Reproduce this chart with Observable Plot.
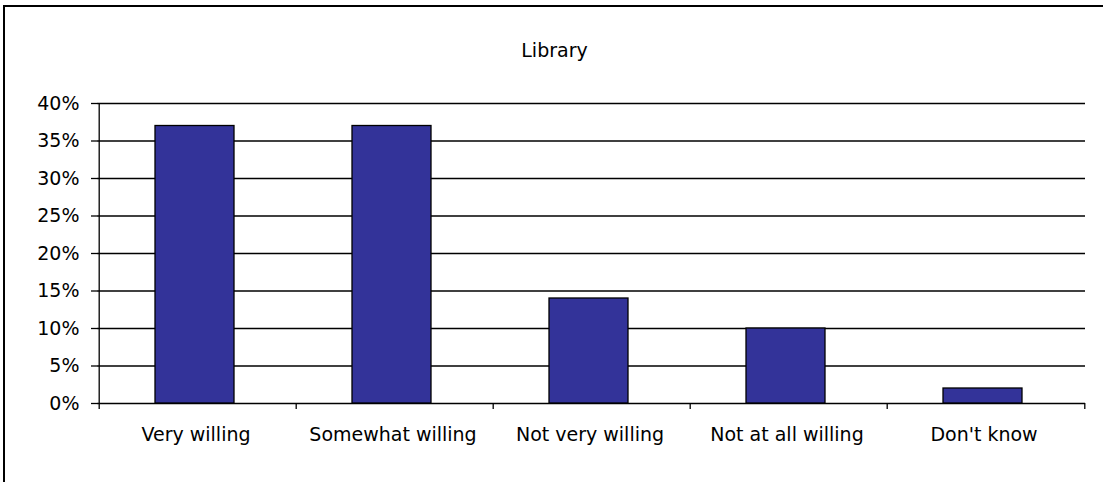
<!DOCTYPE html>
<html>
<head>
<meta charset="utf-8">
<script src="https://cdn.jsdelivr.net/npm/d3@7"></script>
<script src="https://cdn.jsdelivr.net/npm/@observablehq/plot@0.6"></script>
<style>
  html, body { margin: 0; padding: 0; background: #fff; overflow: hidden; }
  #wrap { position: relative; width: 1103px; height: 482px; overflow: hidden; background: #fff; }
  #frame { position: absolute; left: 3px; top: 5px; width: 1200px; height: 600px; border: 2px solid #000; box-sizing: border-box; pointer-events: none; }
  #chart { position: absolute; left: 0; top: 0; }
  #chart svg { font-family: "DejaVu Sans", sans-serif; }
</style>
</head>
<body>
<div id="wrap"><div id="chart"></div><div id="frame"></div></div>
<script>
const title = "Library";
const categories = ["Very willing", "Somewhat willing", "Not very willing", "Not at all willing", "Don't know"];
const values = [0.37, 0.37, 0.14, 0.10, 0.02];
const yTicks = [0, 0.05, 0.10, 0.15, 0.20, 0.25, 0.30, 0.35, 0.40];

const data = categories.map((c, i) => ({category: c, value: values[i]}));

const W = 1103, H = 482;
const mL = 97, mR = 18, mT = 103, mB = 79;
const pInner = 0.6, pOuter = 0.3;
const step = (W - mL - mR) / (categories.length - pInner + 2 * pOuter);
const fs = 19;

const chart = Plot.plot({
  width: W,
  height: H,
  marginLeft: mL,
  marginRight: mR,
  marginTop: mT,
  marginBottom: mB,
  style: {fontFamily: "'DejaVu Sans', sans-serif", fontSize: fs + "px", color: "#000", background: "transparent"},
  x: {domain: categories, paddingInner: pInner, paddingOuter: pOuter, label: null},
  y: {domain: [0, 0.4], label: null},
  marks: [
    Plot.ruleY(yTicks, {stroke: "#000", strokeWidth: 1.3, strokeOpacity: 1}),
    Plot.barY(data, {x: "category", y: "value", dx: -3, fill: "#333399", stroke: "#000", strokeWidth: 1.3}),
    Plot.ruleX([categories[0]], {dx: -step / 2, stroke: "#000", strokeWidth: 1.3}),
    Plot.axisY({ticks: yTicks, tickSize: 6, tickPadding: 12, tickFormat: d3.format(".0%"), fontSize: fs, strokeWidth: 1.3, label: null}),
    Plot.axisX({tickSize: 0, tickPadding: 24, dx: -2, fontSize: fs, label: null}),
    Plot.axisX({tickSize: 6, tickFormat: () => "", dx: -step / 2, strokeWidth: 1.3, label: null}),
    Plot.axisX({ticks: [categories[categories.length - 1]], tickSize: 6, tickFormat: () => "", dx: step / 2, strokeWidth: 1.3, label: null}),
    Plot.text([title], {frameAnchor: "top", lineAnchor: "middle", dy: -53, dx: -37, fontSize: fs, fill: "#000"})
  ]
});
document.getElementById("chart").appendChild(chart);
</script>
</body>
</html>
